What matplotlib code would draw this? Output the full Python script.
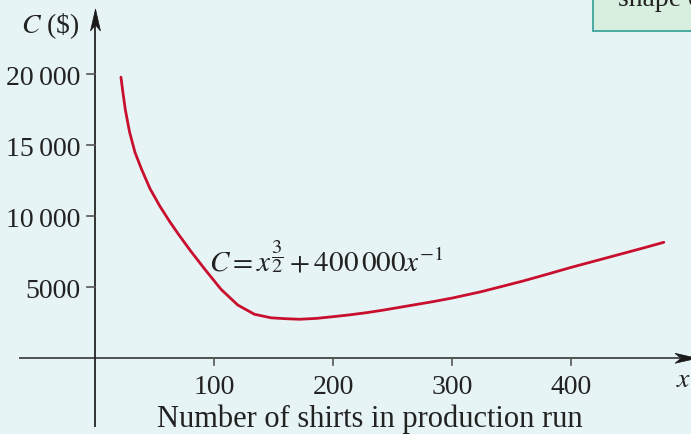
import matplotlib
matplotlib.use("Agg")
import matplotlib.pyplot as plt
from matplotlib.patches import Rectangle, Polygon

# data
shirts = [21.8, 23.5, 25.5, 29, 33.6, 39.2, 46.2, 54.6, 63, 70, 80, 92, 106,
          120, 134, 148, 160, 172, 186, 200, 214, 228, 242, 256, 270, 284,
          300, 324, 340, 360, 380, 400, 420, 440, 460, 478]
cost = [19800, 18700, 17500, 15950, 14500, 13300, 11950, 10700, 9600, 8750,
        7600, 6300, 4850, 3750, 3100, 2850, 2790, 2750, 2810, 2930, 3060,
        3210, 3390, 3590, 3790, 3990, 4240, 4680, 5020, 5450, 5920, 6400,
        6850, 7300, 7750, 8170]
x_ticks = [100, 200, 300, 400]
y_ticks = [5000, 10000, 15000, 20000]
y_tick_labels = ["5000", "10\u2009000", "15\u2009000", "20\u2009000"]

W, H = 691, 435
BG = "#e7f4f6"
SERIF = ["Liberation Serif", "DejaVu Serif"]
plt.rcParams["mathtext.fontset"] = "stix"

fig = plt.figure(figsize=(W / 100, H / 100), dpi=100, facecolor=BG)
ax = fig.add_axes([0, 0, 1, 1])
ax.set_facecolor(BG)
ax.axis("off")

# pixel mapping: x pixel = 95 + 1.19*x ; y pixel = 359.3 - 0.0142*C
sx, x0p = 1.19, 95.0
sy, y0p = 0.0142, 359.3
ax.set_xlim(-x0p / sx, (W - x0p) / sx)
ax.set_ylim((y0p - H) / sy, y0p / sy)

def px(xp, yp):
    return ((xp - x0p) / sx, (y0p - yp) / sy)

def fx(xp, yp):
    return (xp / W, 1 - yp / H)

axis_col = "#222222"
# x axis
ax.plot([px(19, 0)[0], px(680, 0)[0]], [0, 0], color="#444444", lw=1.3,
        solid_capstyle="butt", zorder=2)
# y axis
ax.plot([0, 0], [px(0, 428)[1], px(0, 25)[1]], color=axis_col, lw=1.3,
        solid_capstyle="butt", zorder=2)

def arrow_head(tip, direction):
    # stealth-like arrowhead in pixel space
    tx, ty = tip
    L, Wd, notch = 22, 5.0, 6
    if direction == "up":
        pts = [(tx, ty), (tx + Wd, ty + L), (tx, ty + L - notch), (tx - Wd, ty + L)]
    else:
        pts = [(tx, ty), (tx - L, ty - Wd), (tx - L + notch, ty), (tx - L, ty + Wd)]
    pts = [px(a, b) for a, b in pts]
    ax.add_patch(Polygon(pts, closed=True, facecolor="#1a1a1a",
                         edgecolor="#1a1a1a", lw=0.5, zorder=3, clip_on=False))

arrow_head((95.5, 10), "up")
arrow_head((697, 359.3), "right")

# ticks
tick_len_x = 7 / sy
for t in x_ticks:
    ax.plot([t, t], [0, -tick_len_x], color="#555555", lw=1.2, zorder=2)
    ax.text(t, px(0, 394)[1], str(t), ha="center", va="baseline",
            fontsize=20, family=SERIF, color="#222222")
tick_len_y = 8 / sx
for t, lab in zip(y_ticks, y_tick_labels):
    ax.plot([-tick_len_y, 0], [t, t], color="#555555", lw=1.2, zorder=2)
    ax.text(px(80, 0)[0], t, lab, ha="right", va="center_baseline",
            fontsize=20, family=SERIF, color="#222222")

# curve
ax.plot(shirts, cost, color="#c8102e", lw=2.0, zorder=4,
        solid_capstyle="round", solid_joinstyle="round")

# labels
fig.text(*fx(80, 33), r"$C$ (\$)", ha="right", va="baseline", fontsize=20,
         family=SERIF, color="#222222")
fig.text(*fx(676, 387), r"$x$", ha="left", va="baseline", fontsize=20,
         color="#222222")
fig.text(*fx(370, 427), "Number of shirts in production run", ha="center",
         va="baseline", fontsize=22, family=SERIF, color="#222222")
fig.text(*fx(209, 271), r"$C = x^{\dfrac{3}{2}} + 400\,000x^{-1}$", ha="left",
         va="baseline", fontsize=21, color="#222222")

# partially visible box at top right
fig.patches.append(Rectangle(fx(593, 31.5), 200 / W, 60 / H,
                             transform=fig.transFigure, facecolor="#d8eede",
                             edgecolor="#2f9e94", lw=1.2, zorder=1))
fig.text(*fx(618, 6), "shape of", ha="left", va="baseline", fontsize=20,
         family=SERIF, color="#222222", zorder=2)

fig.savefig("out.png", dpi=100, facecolor=BG)
